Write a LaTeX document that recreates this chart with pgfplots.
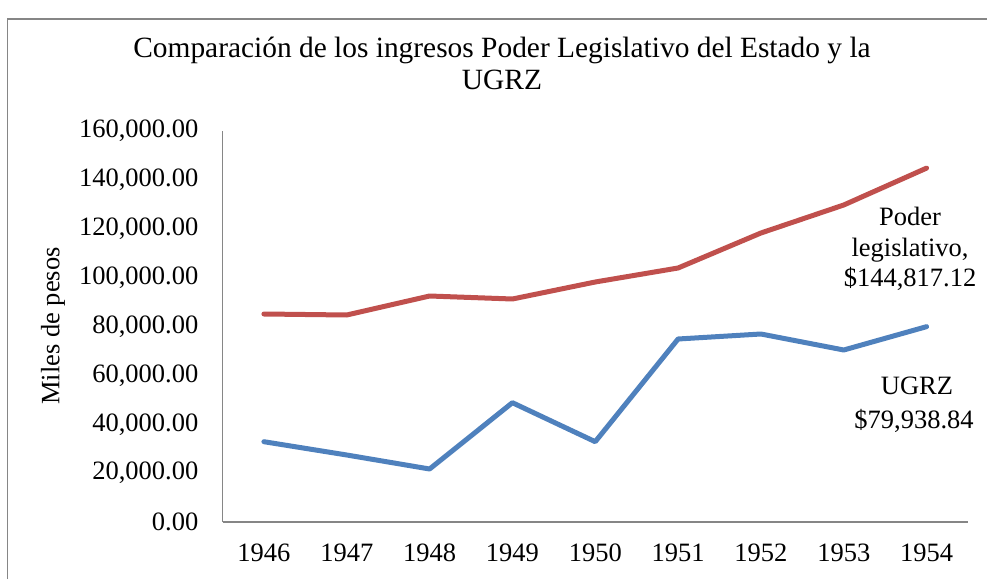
\documentclass[border=0pt]{standalone}
\usepackage{fontspec}
\setmainfont{Liberation Serif}
\usepackage{pgfplots}
\pgfplotsset{compat=1.18}
\definecolor{redl}{HTML}{C0504D}
\definecolor{bluel}{HTML}{4F81BD}
\definecolor{axgray}{HTML}{868686}
\pgfplotstableread{
x y
0 85115
1 84706
2 92480
3 91253
4 98210
5 103939
6 118260
7 129719
8 144817.12
}\poder
\pgfplotstableread{
x y
0 32859
1 27417
2 21688
3 48818
4 32859
5 74885
6 76931
7 70384
8 79938.84
}\ugrz
\begin{document}
\begin{tikzpicture}[x=1pt,y=1pt]
\path[use as bounding box] (0,0) rectangle (987,579);
\draw[axgray, line width=1.5pt] (7.5,0) -- (7.5,560) -- (987,560);
\node[font=\fontsize{29.4}{34}\selectfont, anchor=base] at (502,521) {Comparación de los ingresos Poder Legislativo del Estado y la};
\node[font=\fontsize{29.4}{34}\selectfont, anchor=base] at (502,489) {UGRZ};
\node[font=\fontsize{26.5}{30}\selectfont, rotate=90] at (53,253) {Miles de pesos};
\begin{axis}[
  at={(222.5pt,57pt)}, anchor=south west, scale only axis,
  width=745.5pt, height=391pt,
  xmin=-0.5, xmax=8.5, ymin=0, ymax=160000,
  axis x line*=bottom, axis y line*=left,
  axis line style={draw=axgray, line width=1.5pt, -},
  xtick={0,...,8},
  xticklabels={1946,1947,1948,1949,1950,1951,1952,1953,1954},
  ytick={0,20000,40000,60000,80000,100000,120000,140000,160000},
  major tick length=0pt,
  scaled y ticks=false,
  tick label style={font=\fontsize{26.5}{30}\selectfont, inner sep=0pt},
  xticklabel style={yshift=-22pt},
  yticklabel style={xshift=-24pt},
  yticklabel={\pgfmathprintnumber[fixed, fixed zerofill, precision=2, 1000 sep={,}, assume math mode=true]{\tick}},
  clip=false,
]
\addplot[redl, line width=5pt, line join=round, line cap=round] table[x=x,y=y] {\poder};
\addplot[bluel, line width=5pt, line join=round, line cap=round] table[x=x,y=y] {\ugrz};
\end{axis}
\node[font=\fontsize{26.5}{30}\selectfont, anchor=base] at (910,353) {Poder};
\node[font=\fontsize{26.5}{30}\selectfont, anchor=base] at (910,323) {legislativo,};
\node[font=\fontsize{26.5}{30}\selectfont, anchor=base] at (910,292) {\$144,817.12};
\node[font=\fontsize{26.5}{30}\selectfont, anchor=base] at (917,185) {UGRZ};
\node[font=\fontsize{26.5}{30}\selectfont, anchor=base] at (914,151) {\$79,938.84};
\end{tikzpicture}
\end{document}
